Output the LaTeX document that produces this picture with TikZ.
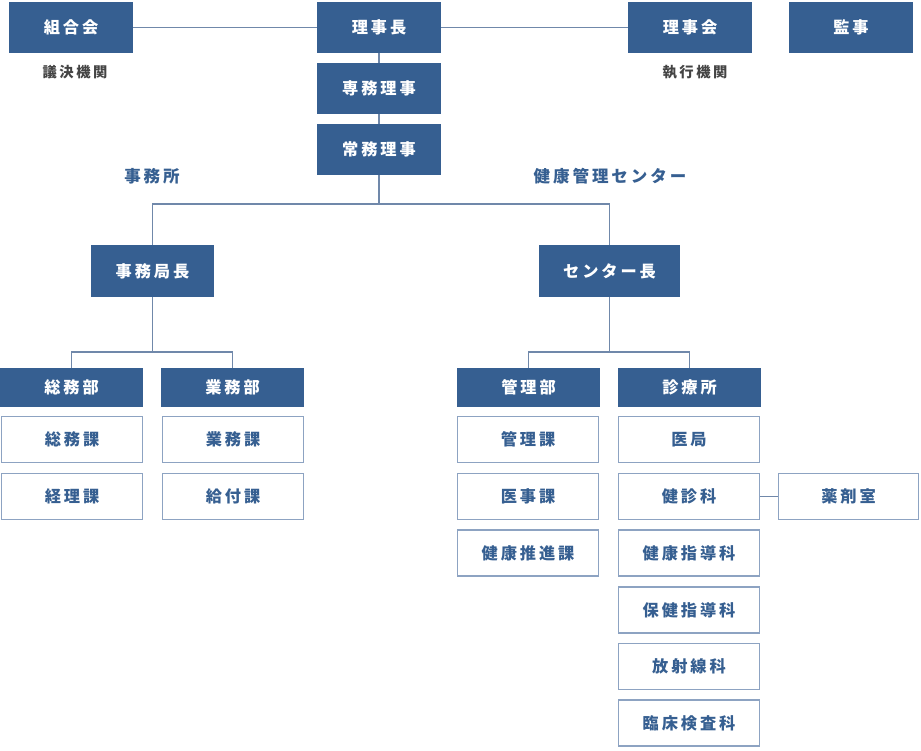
\documentclass[tikz,border=0pt]{standalone}
\usepackage{fontspec}
\setmainfont{Noto Sans CJK JP}[LetterSpace=18]
\definecolor{cblue}{HTML}{365F91}
\definecolor{cborder}{HTML}{8DA3C2}
\definecolor{cline}{HTML}{7088AA}
\definecolor{cgray}{HTML}{444444}
\tikzset{
  fbox/.style={fill=cblue, draw=none, text=white, inner sep=0pt, font=\fontsize{16.2}{18}\selectfont\bfseries},
  obox/.style={fill=white, draw=cborder, line width=1.2pt, text=cblue, inner sep=0pt, font=\fontsize{16.2}{18}\selectfont\bfseries},
  conn/.style={draw=cline, line width=1.5pt},
  glabel/.style={text=cgray, inner sep=0pt, font=\fontsize{14.3}{16}\selectfont\bfseries},
  blabel/.style={text=cblue, inner sep=0pt, font=\fontsize{16.5}{18}\selectfont\bfseries},
}
\begin{document}
\begin{tikzpicture}[x=1pt,y=-1pt]
\useasboundingbox (0,0) rectangle (921,750);
% top row
\node[fbox, minimum width=124pt, minimum height=51pt] (kumiai) at (71,27.5) {組合会};
\node[fbox, minimum width=124pt, minimum height=51pt] (rijicho) at (379,27.5) {理事長};
\node[fbox, minimum width=124pt, minimum height=51pt] (rijikai) at (690,27.5) {理事会};
\node[fbox, minimum width=124pt, minimum height=51pt] (kanji) at (851,27.5) {監事};
\node[glabel] (giketsu) at (75,72) {議決機関};
\node[glabel] (shikko) at (695,72) {執行機関};
\node[fbox, minimum width=124pt, minimum height=51pt] (senmu) at (379,88.5) {専務理事};
\node[fbox, minimum width=124pt, minimum height=51pt] (jomu) at (379,149.5) {常務理事};
\node[blabel] (jimusho) at (152,176) {事務所};
\node[blabel] (kenkan) at (610,176) {健康管理センター};
% second level
\node[fbox, minimum width=123pt, minimum height=52pt] (jkc) at (152.5,271) {事務局長};
\node[fbox, minimum width=141pt, minimum height=52pt] (cent) at (609.5,271) {センター長};
% departments
\node[fbox, minimum width=143pt, minimum height=39pt] (soumubu) at (71.5,387.5) {総務部};
\node[fbox, minimum width=143pt, minimum height=39pt] (gyomubu) at (232.5,387.5) {業務部};
\node[fbox, minimum width=143pt, minimum height=39pt] (kanribu) at (528.5,387.5) {管理部};
\node[fbox, minimum width=143pt, minimum height=39pt] (shinryo) at (689.5,387.5) {診療所};
% sections
\node[obox, minimum width=141pt, minimum height=46pt] (soumuka) at (72,439.5) {総務課};
\node[obox, minimum width=141pt, minimum height=46pt] (keirika) at (72,496.5) {経理課};
\node[obox, minimum width=141pt, minimum height=46pt] (gyomuka) at (233,439.5) {業務課};
\node[obox, minimum width=141pt, minimum height=46pt] (kyufuka) at (233,496.5) {給付課};
\node[obox, minimum width=141pt, minimum height=46pt] (kanrika) at (528,439.5) {管理課};
\node[obox, minimum width=141pt, minimum height=46pt] (ijika) at (528,496.5) {医事課};
\node[obox, minimum width=141pt, minimum height=46pt] (suishin) at (528,553) {健康推進課};
\node[obox, minimum width=141pt, minimum height=46pt] (ikyoku) at (689,439.5) {医局};
\node[obox, minimum width=141pt, minimum height=46pt] (kenshin) at (689,496.5) {健診科};
\node[obox, minimum width=141pt, minimum height=46pt] (kenshido) at (689,553) {健康指導科};
\node[obox, minimum width=141pt, minimum height=46pt] (hoken) at (689,610) {保健指導科};
\node[obox, minimum width=141pt, minimum height=46pt] (hosha) at (689,666.5) {放射線科};
\node[obox, minimum width=141pt, minimum height=46pt] (rinsho) at (689,723) {臨床検査科};
\node[obox, minimum width=140pt, minimum height=46pt] (yakuzai) at (848.5,496.5) {薬剤室};
% connectors
\draw[conn] (kumiai.east) -- (rijicho.west);
\draw[conn] (rijicho.east) -- (rijikai.west);
\draw[conn] (rijicho.south) -- (senmu.north);
\draw[conn] (senmu.south) -- (jomu.north);
\coordinate (b1) at (379,204);
\draw[conn] (jomu.south) -- (b1);
\draw[conn] (jkc.north) |- (b1) -| (cent.north);
\coordinate (b2) at (152.5,352);
\draw[conn] (jkc.south) -- (b2);
\draw[conn] (soumubu.north) |- (b2) -| (gyomubu.north);
\coordinate (b3) at (609.5,352);
\draw[conn] (cent.south) -- (b3);
\draw[conn] (kanribu.north) |- (b3) -| (shinryo.north);
\draw[conn] (kenshin.east) -- (yakuzai.west);
\end{tikzpicture}
\end{document}
